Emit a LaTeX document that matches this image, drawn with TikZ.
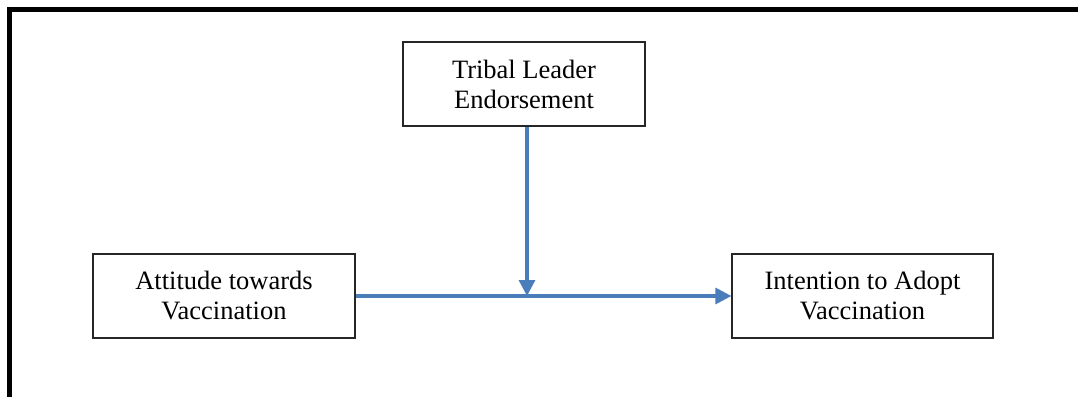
\documentclass[tikz,border=0pt]{standalone}
\usepackage{fontspec}
\setmainfont{Liberation Serif}
\usetikzlibrary{arrows.meta}
\definecolor{linkblue}{HTML}{4A7EBB}

\tikzset{
    varbox/.style={shape=rectangle, draw=black!85, line width=1.2pt, inner sep=0pt,
        minimum width=#1, minimum height=84pt, align=center,
        font=\fontsize{26.5}{30}\selectfont},
    link/.style={draw=linkblue, line width=3.2pt, -{Triangle[length=16pt,width=16pt]}}
}

\begin{document}
\begin{tikzpicture}[x=1pt, y=1pt]
        % frame of the page
        \useasboundingbox (0, 0) rectangle (1078, 397);
        \draw[line width=5pt] (9.5, 0) -- (9.5, 387.5) -- (1080, 387.5);
        % Paths, nodes and wires:
        \node[varbox=242pt] (tle) at (524, 313){Tribal Leader\\Endorsement};
        \node[varbox=262pt] (att) at (224, 101){Attitude towards\\Vaccination};
        \node[varbox=261pt] (int) at (862.5, 101){Intention to Adopt\\Vaccination};
        \coordinate (drop) at ([xshift=3pt]tle.south);
        \coordinate (join) at (drop |- int.west);
        \draw[link] (att) -- (int);
        \draw[link] (drop) -- (join);
    \end{tikzpicture}
\end{document}
